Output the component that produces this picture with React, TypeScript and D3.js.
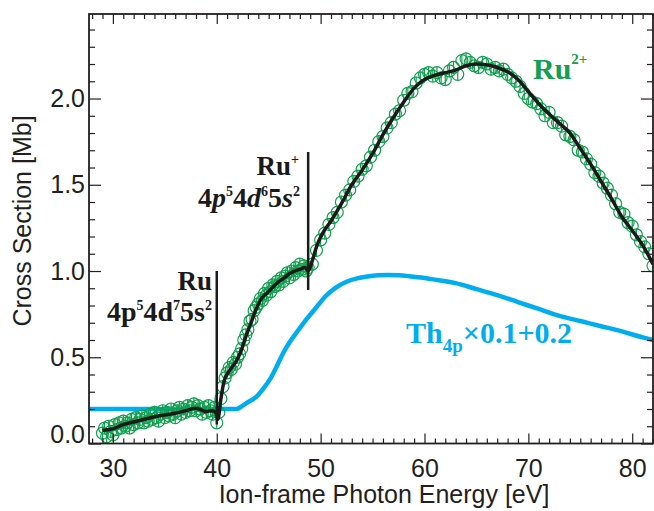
import React, { useEffect, useRef } from 'react';
import * as d3 from 'd3';

// ---------- DATA ----------
// Smoothed fit (black line)
const fitEnergy = [29.0, 29.5, 30, 31, 32, 33, 34, 35, 36, 37, 38, 38.5, 39, 39.5, 39.9, 40.1, 40.4, 40.7, 41.2, 41.8, 42.3, 42.8, 43.3, 43.8, 44.3, 44.8, 45.3, 45.8, 46.5, 47.0, 47.5, 48.0, 48.5, 48.8, 49.2, 49.6, 50.2, 51.0, 52.0, 53.0, 54.0, 55.0, 56.0, 57.0, 58.0, 59.0, 60.0, 61.0, 62.0, 63.0, 64.0, 65.0, 66.0, 67.0, 68.0, 69.0, 70.0, 71.0, 72.0, 73.0, 74.0, 75.0, 76.0, 77.0, 78.0, 79.0, 80.0, 81.0, 82.0];
const fitCross = [0.075, 0.08, 0.085, 0.11, 0.125, 0.14, 0.155, 0.165, 0.175, 0.19, 0.205, 0.195, 0.185, 0.19, 0.18, 0.14, 0.26, 0.36, 0.42, 0.47, 0.53, 0.62, 0.70, 0.78, 0.84, 0.87, 0.90, 0.93, 0.96, 0.985, 1.0, 1.01, 1.02, 1.0, 1.06, 1.14, 1.22, 1.29, 1.39, 1.50, 1.585, 1.68, 1.79, 1.89, 1.98, 2.06, 2.11, 2.135, 2.15, 2.165, 2.19, 2.2, 2.195, 2.18, 2.155, 2.11, 2.04, 1.97, 1.91, 1.855, 1.80, 1.71, 1.62, 1.52, 1.42, 1.315, 1.235, 1.15, 1.04];

// Th 4p theory x0.1 + 0.2 (blue line)
const thEnergy = [27.7, 41.9, 42.5, 43.0, 43.8, 44.5, 45.1, 45.8, 46.4, 47.0, 47.7, 48.5, 49.6, 50.5, 51.5, 52.5, 53.5, 54.5, 55.5, 56.5, 57.5, 58.5, 60, 61.5, 63, 65, 67, 69, 71, 73, 75, 77, 79, 81, 82];
const thCross = [0.2, 0.2, 0.22, 0.24, 0.27, 0.32, 0.37, 0.45, 0.525, 0.585, 0.645, 0.71, 0.79, 0.855, 0.905, 0.938, 0.957, 0.968, 0.975, 0.977, 0.975, 0.97, 0.96, 0.945, 0.93, 0.895, 0.86, 0.82, 0.78, 0.74, 0.71, 0.68, 0.65, 0.615, 0.60];

// Measured Ru2+ cross section (green circles), dense low-energy scan
const lowEnergy = [29.0, 29.2, 29.4, 29.6, 29.8, 30.0, 30.2, 30.4, 30.6, 30.8, 31.0, 31.2, 31.4, 31.6, 31.8, 32.0, 32.2, 32.4, 32.6, 32.8, 33.0, 33.2, 33.4, 33.6, 33.8, 34.0, 34.2, 34.4, 34.6, 34.8, 35.0, 35.2, 35.4, 35.6, 35.8, 36.0, 36.2, 36.4, 36.6, 36.8, 37.0, 37.2, 37.4, 37.6, 37.8, 38.0, 38.2, 38.4, 38.6, 38.8, 39.0, 39.2, 39.4, 39.6, 39.8, 40.0, 40.2, 40.4, 40.6, 40.8, 41.0, 41.2, 41.4, 41.6, 41.8, 42.0, 42.2, 42.4, 42.6, 42.8, 43.0, 43.2, 43.4, 43.6, 43.8, 44.0, 44.2, 44.4, 44.6, 44.8, 45.0, 45.2, 45.4, 45.6, 45.8, 46.0, 46.2, 46.4, 46.6, 46.8, 47.0, 47.2, 47.4, 47.6, 47.8, 48.0, 48.2, 48.4, 48.6, 48.8];
const lowCross = [0.06, 0.09, 0.04, 0.10, 0.07, 0.05, 0.11, 0.08, 0.12, 0.09, 0.13, 0.10, 0.12, 0.09, 0.14, 0.11, 0.15, 0.12, 0.14, 0.16, 0.12, 0.15, 0.13, 0.17, 0.14, 0.18, 0.15, 0.13, 0.17, 0.19, 0.15, 0.18, 0.16, 0.20, 0.17, 0.15, 0.19, 0.21, 0.17, 0.20, 0.18, 0.22, 0.19, 0.21, 0.23, 0.19, 0.22, 0.20, 0.17, 0.21, 0.18, 0.22, 0.19, 0.17, 0.21, 0.12, 0.18, 0.26, 0.33, 0.38, 0.41, 0.44, 0.43, 0.47, 0.46, 0.50, 0.52, 0.55, 0.60, 0.63, 0.66, 0.71, 0.72, 0.77, 0.79, 0.81, 0.84, 0.83, 0.87, 0.86, 0.90, 0.88, 0.92, 0.91, 0.94, 0.92, 0.96, 0.94, 0.97, 0.99, 0.96, 1.00, 0.98, 1.02, 1.00, 1.04, 1.01, 1.03, 1.00, 1.02];
// Coarser high-energy scan
const highEnergy = [49.2, 49.6, 50.0, 50.4, 50.8, 51.2, 51.6, 52.0, 52.4, 52.8, 53.2, 53.6, 54.0, 54.4, 54.8, 55.2, 55.6, 56.0, 56.4, 56.8, 57.2, 57.6, 58.0, 58.4, 58.8, 59.2, 59.6, 60.0, 60.4, 60.8, 61.2, 61.6, 62.0, 62.4, 62.8, 63.2, 63.6, 64.0, 64.4, 64.8, 65.2, 65.6, 66.0, 66.4, 66.8, 67.2, 67.6, 68.0, 68.4, 68.8, 69.2, 69.6, 70.0, 70.4, 70.8, 71.2, 71.6, 72.0, 72.4, 72.8, 73.2, 73.6, 74.0, 74.4, 74.8, 75.2, 75.6, 76.0, 76.4, 76.8, 77.2, 77.6, 78.0, 78.4, 78.8, 79.2, 79.6, 80.0, 80.4, 80.8, 81.2, 81.6, 82.0];
const highCross = [1.04, 1.12, 1.18, 1.22, 1.27, 1.31, 1.34, 1.40, 1.44, 1.47, 1.52, 1.55, 1.59, 1.61, 1.66, 1.70, 1.75, 1.78, 1.83, 1.86, 1.91, 1.93, 1.99, 2.03, 2.04, 2.09, 2.12, 2.14, 2.15, 2.13, 2.15, 2.12, 2.11, 2.16, 2.18, 2.14, 2.22, 2.23, 2.21, 2.19, 2.18, 2.21, 2.20, 2.17, 2.18, 2.16, 2.17, 2.14, 2.12, 2.10, 2.07, 2.03, 2.00, 1.98, 1.97, 1.94, 1.90, 1.92, 1.86, 1.86, 1.84, 1.79, 1.78, 1.76, 1.70, 1.69, 1.65, 1.62, 1.57, 1.55, 1.51, 1.48, 1.44, 1.39, 1.34, 1.33, 1.28, 1.26, 1.21, 1.17, 1.14, 1.10, 1.03];
const errorBar = 0.036;

// Ionization thresholds
const thresholdEnergy = [40, 48.8];
const thresholdLow = [0.11, 0.89];
const thresholdHigh = [1.0, 1.69];

const xMajorTicks = [30, 40, 50, 60, 70, 80];
const xMinorTicks = [28, 29, 31, 32, 33, 34, 35, 36, 37, 38, 39, 41, 42, 43, 44, 45, 46, 47, 48, 49, 51, 52, 53, 54, 55, 56, 57, 58, 59, 61, 62, 63, 64, 65, 66, 67, 68, 69, 71, 72, 73, 74, 75, 76, 77, 78, 79, 81, 82];
const yMajorTicks = [0, 0.5, 1.0, 1.5, 2.0];
const yTickLabels = ['0.0', '0.5', '1.0', '1.5', '2.0'];
const yMinorTicks = [0.1, 0.2, 0.3, 0.4, 0.6, 0.7, 0.8, 0.9, 1.1, 1.2, 1.3, 1.4, 1.6, 1.7, 1.8, 1.9, 2.1, 2.2, 2.3, 2.4];

const xTitle = 'Ion-frame Photon Energy [eV]';
const yTitle = 'Cross Section [Mb]';

// ---------- STYLE ----------
const GREEN = '#10a04e';
const BLUE = '#00aeef';
const BLACK = '#1a1a1a';
const AXIS = '#231f20';
const SANS = '"Liberation Sans", Arial, Helvetica, sans-serif';
const SERIF = '"Liberation Serif", "Times New Roman", serif';

type Part = { t: string; sup?: boolean; sub?: boolean; it?: boolean };

export default function App() {
  const ref = useRef<SVGSVGElement>(null);

  useEffect(() => {
    const svg = d3.select(ref.current);
    svg.selectAll('*').remove();

    const left = 89, right = 653, top = 14, bottom = 443.5;
    const x = d3.scaleLinear().domain([27.7, 82]).range([left, right]);
    const y = d3.scaleLinear().domain([0, 2.49]).range([bottom, top]);

    svg.append('defs').append('clipPath').attr('id', 'plotclip')
      .append('rect').attr('x', left).attr('y', top).attr('width', right - left).attr('height', bottom - top);

    const plot = svg.append('g').attr('clip-path', 'url(#plotclip)');

    // Blue theory line
    const line = d3.line<[number, number]>().x(d => x(d[0])).y(d => y(d[1])).curve(d3.curveMonotoneX);
    plot.append('path')
      .attr('d', line(thEnergy.map((e, i) => [e, thCross[i]]))!)
      .attr('fill', 'none').attr('stroke', BLUE).attr('stroke-width', 4.5).attr('stroke-linejoin', 'round');

    // Green data points with error bars
    const pts: [number, number][] = [
      ...lowEnergy.map((e, i) => [e, lowCross[i]] as [number, number]),
      ...highEnergy.map((e, i) => [e, highCross[i]] as [number, number]),
    ];
    const pg = plot.append('g');
    pg.selectAll('line.err').data(pts).enter().append('line')
      .attr('x1', d => x(d[0])).attr('x2', d => x(d[0]))
      .attr('y1', d => y(d[1] - errorBar)).attr('y2', d => y(d[1] + errorBar))
      .attr('stroke', GREEN).attr('stroke-width', 1.2);
    pg.selectAll('circle').data(pts).enter().append('circle')
      .attr('cx', d => x(d[0])).attr('cy', d => y(d[1])).attr('r', 6)
      .attr('fill', 'none').attr('stroke', GREEN).attr('stroke-width', 1.2);

    // Black fit line
    const fitLine = d3.line<[number, number]>().x(d => x(d[0])).y(d => y(d[1])).curve(d3.curveMonotoneX);
    plot.append('path')
      .attr('d', fitLine(fitEnergy.map((e, i) => [e, fitCross[i]]))!)
      .attr('fill', 'none').attr('stroke', BLACK).attr('stroke-width', 3.5).attr('stroke-linejoin', 'round');

    // Threshold markers
    thresholdEnergy.forEach((e, i) => {
      svg.append('line')
        .attr('x1', x(e)).attr('x2', x(e)).attr('y1', y(thresholdLow[i])).attr('y2', y(thresholdHigh[i]))
        .attr('stroke', BLACK).attr('stroke-width', 2.5);
    });

    // Axes
    const axG = svg.append('g').attr('color', AXIS);
    const styleAxis = (g: any) => {
      g.select('.domain').remove();
      g.selectAll('line').attr('stroke', AXIS).attr('stroke-width', 1.2);
      g.selectAll('text').attr('font-family', SANS).attr('font-size', 25).attr('fill', AXIS);
    };
    // bottom
    axG.append('g').attr('transform', `translate(0,${bottom})`)
      .call(d3.axisBottom(x).tickValues(xMinorTicks).tickSize(-5).tickFormat(() => '')).call(styleAxis);
    axG.append('g').attr('transform', `translate(0,${bottom})`)
      .call(d3.axisBottom(x).tickValues(xMajorTicks).tickSize(-10).tickSizeOuter(0).tickPadding(16).tickFormat(d3.format('d'))).call(styleAxis);
    // top
    axG.append('g').attr('transform', `translate(0,${top})`)
      .call(d3.axisTop(x).tickValues(xMinorTicks).tickSize(-5).tickFormat(() => '')).call(styleAxis);
    axG.append('g').attr('transform', `translate(0,${top})`)
      .call(d3.axisTop(x).tickValues(xMajorTicks).tickSize(-10).tickFormat(() => '')).call(styleAxis);
    // left
    axG.append('g').attr('transform', `translate(${left},0)`)
      .call(d3.axisLeft(y).tickValues(yMinorTicks).tickSize(-6).tickFormat(() => '')).call(styleAxis);
    const yl = axG.append('g').attr('transform', `translate(${left},0)`)
      .call(d3.axisLeft(y).tickValues(yMajorTicks).tickSize(-12).tickPadding(4)
        .tickFormat((d: any) => yTickLabels[yMajorTicks.indexOf(+d)])).call(styleAxis);
    yl.selectAll('text').filter((d: any) => d === 0).attr('dy', '-0.05em');
    // right
    axG.append('g').attr('transform', `translate(${right},0)`)
      .call(d3.axisRight(y).tickValues(yMinorTicks).tickSize(-6).tickFormat(() => '')).call(styleAxis);
    axG.append('g').attr('transform', `translate(${right},0)`)
      .call(d3.axisRight(y).tickValues(yMajorTicks).tickSize(-12).tickFormat(() => '')).call(styleAxis);

    // Frame
    svg.append('rect').attr('x', left).attr('y', top).attr('width', right - left).attr('height', bottom - top)
      .attr('fill', 'none').attr('stroke', AXIS).attr('stroke-width', 1.8);

    // Axis titles
    svg.append('text').attr('x', (left + right) / 2 + 13).attr('y', 503)
      .attr('text-anchor', 'middle').attr('font-family', SANS).attr('font-size', 25).attr('fill', AXIS)
      .text(xTitle);
    svg.append('text').attr('transform', `translate(31,221) rotate(-90)`)
      .attr('text-anchor', 'middle').attr('font-family', SANS).attr('font-size', 25).attr('fill', AXIS)
      .text(yTitle);

    // Rich text helper
    const rich = (px: number, py: number, anchor: string, size: number, color: string, parts: Part[], smallSize: number, shift: number) => {
      const t = svg.append('text').attr('x', px).attr('y', py).attr('text-anchor', anchor)
        .attr('font-family', SERIF).attr('font-weight', 'bold').attr('font-size', size).attr('fill', color);
      let cur = 0;
      parts.forEach(p => {
        const target = p.sup ? -shift : p.sub ? shift * 0.6 : 0;
        const ts = t.append('tspan').attr('dy', target - cur).text(p.t);
        if (p.sup || p.sub) ts.attr('font-size', smallSize);
        if (p.it) ts.attr('font-style', 'italic');
        cur = target;
      });
      return t;
    };

    rich(212, 290, 'end', 27, BLACK, [{ t: 'Ru' }], 14, 10);
    rich(212, 321, 'end', 28, BLACK, [
      { t: '4p' }, { t: '5', sup: true }, { t: '4d' }, { t: '7', sup: true }, { t: '5s' }, { t: '2', sup: true },
    ], 14, 11);
    rich(299, 175, 'end', 27, BLACK, [{ t: 'Ru' }, { t: '+', sup: true }], 14, 11);
    rich(300, 207, 'end', 28, BLACK, [
      { t: '4' }, { t: 'p', it: true }, { t: '5', sup: true }, { t: '4' }, { t: 'd', it: true }, { t: '6', sup: true },
      { t: '5' }, { t: 's', it: true }, { t: '2', sup: true },
    ], 14, 11);
    rich(533, 79, 'start', 30, GREEN, [{ t: 'Ru' }, { t: '2+', sup: true }], 15, 15);
    rich(406, 343, 'start', 30, BLUE, [
      { t: 'Th' }, { t: '4p', sub: true }, { t: '×0.1+0.2' },
    ], 19, 15);
  }, []);

  return <svg ref={ref} width={654} height={511} style={{ position: 'absolute', left: 0, top: 0, background: '#fff' }} />;
}
